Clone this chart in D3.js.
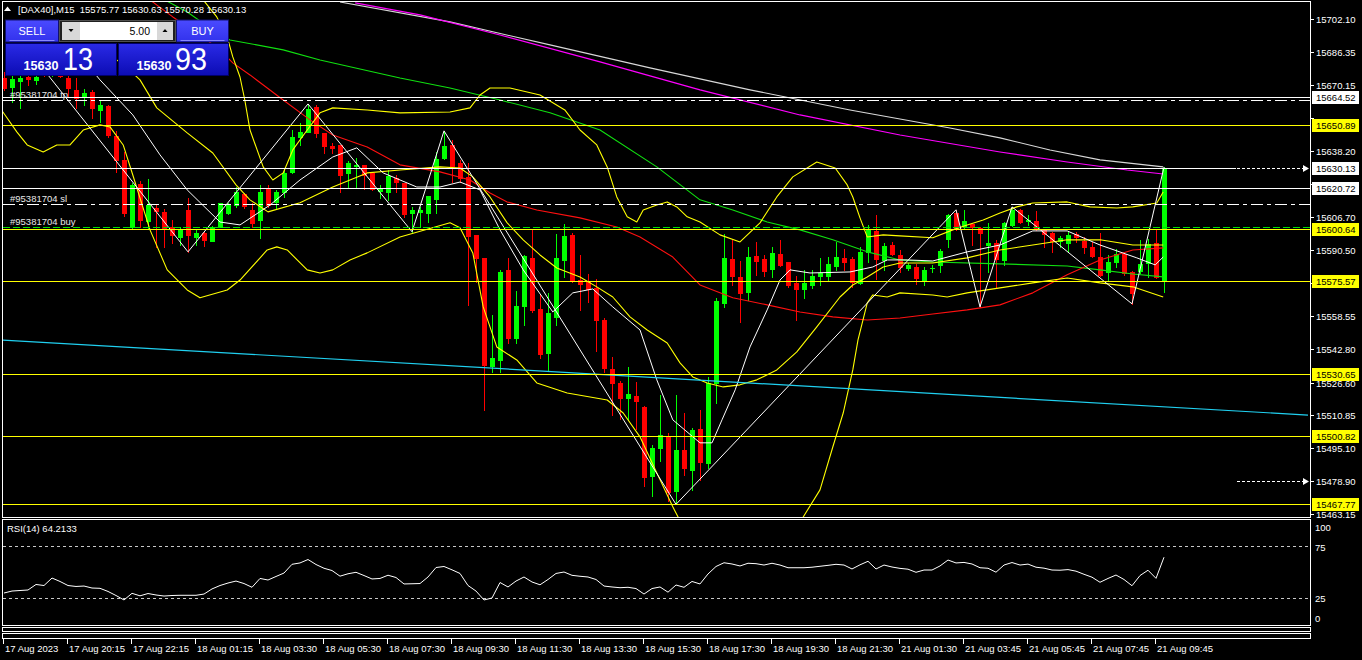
<!DOCTYPE html>
<html><head><meta charset="utf-8">
<script src="https://d3js.org/d3.v7.min.js"></script>
<style>
html,body{margin:0;padding:0;background:#000;overflow:hidden;}
svg{display:block;}
text{font-family:"Liberation Sans",Arial,sans-serif;}
</style></head>
<body><svg width="1362" height="660"></svg>
<script>
// ================= DATA =================
const headerSymbol = "[DAX40],M15";
const headerOHLC = ["15575.77", "15630.63", "15570.28", "15630.13"];
const lotSize = "5.00";
const sellQuote = ["15630", "13"];
const buyQuote = ["15630", "93"];

const opens = [
15673.6,15669.3,15672.2,15674.1,15672.7,15676.1,15675.1,15675.6,15673.6,15667.9,
15664.5,15666.9,15658.2,15660.1,15645.7,15634.1,15601.8,15622.5,15604.7,15610.9,
15609.0,15601.8,15596.9,15610.0,15596.9,15598.9,15595.0,15601.8,15608.5,15612.4,
15617.7,15610.0,15605.2,15620.1,15613.8,15618.6,15628.3,15645.2,15647.6,15659.6,
15647.1,15640.8,15641.3,15627.8,15631.1,15631.6,15627.8,15619.1,15618.6,15625.4,
15622.9,15608.5,15609.0,15608.5,15615.3,15635.0,15641.3,15632.6,15625.9,15597.9,
15586.8,15534.6,15537.5,15581.0,15548.2,15563.6,15586.8,15562.2,15540.9,15558.3,
15585.8,15597.9,15576.1,15575.2,15572.3,15556.8,15533.2,15526.4,15519.2,15520.1,
15514.8,15481.5,15495.0,15500.3,15474.3,15494.1,15484.4,15504.2,15487.8,15526.4,
15565.1,15586.3,15577.6,15570.3,15587.8,15586.3,15581.5,15588.7,15584.8,15574.7,
15571.8,15573.7,15578.1,15578.1,15582.9,15586.8,15586.3,15574.7,15589.7,15599.8,
15585.8,15593.1,15588.3,15581.9,15582.4,15576.1,15581.8,15583.4,15596.0,15608.5,
15602.2,15603.2,15601.3,15593.1,15594.0,15585.8,15602.7,15610.0,15604.7,15604.7,
15600.3,15598.9,15595.0,15594.0,15598.4,15595.0,15592.1,15587.3,15580.1,15584.8,
15588.7,15580.1,15580.5,15584.3,15594.0,15575.77];
const highs = [
15676.5,15675.6,15675.6,15675.6,15675.6,15677.5,15676.1,15676.1,15675.6,15673.6,
15668.3,15667.9,15663.0,15660.6,15648.1,15637.9,15622.9,15623.9,15624.9,15612.4,
15610.5,15605.2,15601.8,15615.8,15600.3,15599.8,15602.2,15613.4,15613.4,15621.0,
15618.1,15613.4,15622.0,15622.0,15619.6,15629.7,15648.5,15651.9,15661.1,15660.6,
15647.1,15642.2,15641.3,15633.6,15635.0,15631.6,15627.8,15622.0,15629.2,15626.8,
15622.9,15611.4,15611.4,15616.7,15637.9,15648.1,15643.7,15634.1,15632.6,15597.9,
15586.8,15559.3,15581.0,15586.8,15570.8,15588.3,15600.3,15568.9,15569.9,15598.4,
15603.2,15598.9,15588.3,15579.0,15576.6,15557.8,15539.0,15527.4,15534.1,15526.9,
15515.3,15496.5,15520.6,15502.3,15520.6,15511.9,15504.7,15513.4,15529.3,15567.5,
15598.4,15595.5,15585.3,15592.1,15594.5,15588.3,15592.1,15595.5,15584.8,15578.1,
15581.0,15581.0,15586.8,15587.3,15594.5,15591.1,15587.3,15592.1,15602.7,15607.5,
15594.0,15594.5,15590.7,15584.3,15583.9,15582.4,15583.4,15591.1,15608.0,15610.0,
15610.0,15603.2,15601.8,15603.7,15595.5,15604.2,15611.4,15610.5,15607.5,15609.5,
15600.3,15599.4,15597.4,15599.4,15599.4,15596.9,15594.5,15598.9,15588.3,15591.1,
15589.2,15580.5,15595.5,15596.0,15600.3,15630.63];
const lows = [
15667.9,15662.1,15659.2,15670.3,15670.8,15674.6,15674.6,15674.1,15664.5,15659.2,
15660.6,15654.3,15652.4,15645.2,15628.3,15607.0,15601.3,15601.8,15601.3,15592.1,
15592.1,15594.0,15593.1,15589.7,15593.1,15592.6,15595.0,15601.8,15608.0,15611.4,
15610.9,15601.8,15596.5,15611.4,15610.9,15616.2,15627.8,15641.3,15647.6,15645.2,
15637.4,15637.4,15618.6,15620.5,15621.0,15620.1,15619.6,15615.8,15614.8,15618.6,
15606.6,15599.4,15601.8,15604.2,15608.5,15634.5,15623.4,15623.4,15564.1,15575.2,
15513.4,15531.7,15531.7,15545.7,15545.7,15554.4,15560.7,15538.5,15532.7,15554.4,
15577.6,15575.2,15561.7,15565.5,15541.9,15531.7,15511.0,15509.0,15508.5,15504.2,
15476.7,15471.9,15488.8,15469.5,15467.8,15482.0,15474.8,15479.6,15485.4,15516.8,
15563.1,15573.7,15555.9,15566.5,15578.6,15578.1,15577.6,15582.9,15572.8,15556.8,
15567.5,15572.3,15573.7,15576.1,15581.0,15581.0,15572.8,15574.2,15584.8,15576.6,
15581.0,15588.3,15580.1,15581.0,15574.2,15573.7,15580.1,15580.1,15592.1,15600.3,
15601.3,15593.1,15563.1,15580.1,15572.3,15583.4,15602.2,15603.7,15602.7,15600.3,
15592.1,15589.7,15592.1,15589.7,15594.5,15589.2,15587.3,15578.1,15575.7,15582.4,
15578.6,15564.6,15579.5,15577.6,15577.1,15570.28];
const closes = [
15668.8,15673.2,15673.6,15673.2,15674.1,15675.1,15675.6,15674.6,15668.8,15664.0,
15666.4,15659.2,15660.6,15646.1,15634.1,15608.5,15622.0,15605.2,15612.4,15609.5,
15601.3,15597.9,15600.8,15597.9,15598.9,15595.5,15601.8,15613.4,15612.4,15618.6,
15611.9,15603.7,15618.6,15612.4,15618.6,15627.8,15645.2,15647.6,15658.7,15647.1,
15640.8,15639.8,15626.8,15632.6,15631.6,15626.8,15620.1,15620.1,15626.3,15623.4,
15608.0,15610.0,15610.0,15616.7,15634.5,15640.8,15631.1,15625.4,15597.4,15586.8,
15535.1,15538.5,15580.1,15548.2,15563.6,15587.8,15561.7,15540.4,15560.2,15586.8,
15597.4,15575.7,15574.2,15571.8,15556.8,15533.7,15526.4,15519.2,15521.1,15517.7,
15481.0,15495.0,15501.3,15473.8,15494.1,15485.4,15503.7,15488.3,15526.4,15566.0,
15586.8,15578.1,15569.9,15587.3,15585.3,15580.5,15589.2,15583.4,15573.7,15571.8,
15574.7,15578.1,15579.5,15583.9,15587.3,15584.8,15575.2,15589.7,15600.8,15586.3,
15592.6,15588.7,15582.4,15583.4,15577.1,15581.0,15582.0,15590.2,15607.5,15601.3,
15604.7,15601.8,15598.9,15594.0,15586.3,15603.7,15610.0,15604.2,15605.2,15601.3,
15598.4,15595.0,15596.5,15597.9,15596.9,15592.1,15587.8,15578.6,15584.8,15588.7,
15579.5,15569.9,15583.9,15593.5,15577.6,15630.13];

const rsi = [
29.8,31.7,32.2,32.7,38.0,37.0,44.2,40.9,37.0,36.1,
36.5,34.6,34.3,31.3,27.4,23.1,29.5,27.1,29.3,27.9,
26.9,27.4,27.6,27.6,27.6,28.8,33.7,37.0,39.4,41.3,
38.9,35.3,43.8,42.3,45.7,49.0,57.4,58.7,62.0,57.2,
53.6,51.4,46.0,48.3,49.7,46.6,43.3,43.8,46.9,44.7,
38.5,38.7,38.9,45.2,54.3,55.3,52.1,48.6,37.0,31.7,
23.1,25.0,39.9,35.6,41.3,45.2,40.4,37.7,42.8,48.6,
50.0,46.8,45.9,45.2,42.8,36.5,35.6,34.9,35.3,34.1,
28.8,34.1,35.6,30.6,37.5,35.3,40.9,38.5,48.1,55.3,
58.9,57.7,55.8,58.4,58.0,56.7,58.4,56.7,54.1,54.1,
54.1,54.6,55.5,56.4,57.4,56.7,52.9,56.9,60.3,52.9,
56.7,54.8,53.5,52.7,49.7,51.9,51.9,55.8,61.5,58.7,
59.2,57.7,54.1,53.6,49.8,56.7,59.1,56.7,57.6,54.6,
53.7,51.9,51.7,52.3,50.8,47.8,45.0,40.1,43.8,47.1,
42.8,36.8,46.6,51.7,43.9,64.2133];
const rsiLabel = "RSI(14) 64.2133";
const rsiLevels = [75, 25];
const rsiAxisVals = [100, 75, 25, 0];

// indicator lines: bar position and value
const redMaIdx = [18.25,21.1,24.5,27,28.6,30.75,34.9,38.25,41.1,45.4,49.5,54.5,58.25,60.75,62.9,66.6,72,76.6,79.5,83.6,87,91.1,95.4,99.5,103.6,107.9,112,116.1,120.4,124.5,128.6,132.9,137,141.1,144.9];
const redMaVal = [15711.3,15703.1,15694.4,15687.2,15680.9,15675.1,15663.0,15653.4,15646.1,15640.3,15631.7,15628.3,15624.4,15618.1,15613.8,15609.9,15606.1,15601.7,15596.9,15587.2,15573.7,15567.5,15564.1,15560.7,15558.3,15556.8,15557.8,15559.7,15561.7,15564.1,15569.9,15578.6,15585.8,15590.6,15591.6];
const greenMaIdx = [20.1,22.9,25.75,28.25,34.9,39.5,49.5,55.75,62,68.25,74.5,81.6,87,91.1,95.4,99.5,103.6,107.9,112,116.1,124.5,132.9,137,141.1,144.9];
const greenMaVal = [15711.3,15705.5,15697.8,15692.0,15687.2,15682.3,15673.6,15668.8,15663.0,15656.8,15648.5,15630.7,15614.8,15609.9,15604.1,15600.3,15595.5,15589.7,15585.8,15584.8,15583.9,15582.9,15581.0,15579.0,15577.6];
const magentaMaIdx = [43.9,52,62,74.5,87,99.5,112,124.5,132.9,140.4,144.9];
const magentaMaVal = [15709.9,15704.1,15694.4,15681.4,15667.9,15655.8,15646.1,15637.9,15633.1,15629.2,15627.3];
const grayMaIdx = [42,55.75,68.25,80.75,93.25,105.75,118.25,124.5,130.75,137,144.9];
const grayMaVal = [15710.3,15700.7,15689.6,15678.5,15667.9,15658.2,15649.5,15644.7,15638.9,15634.1,15630.7];
const whiteMaIdx = [10.75,12,16.1,19.5,22.9,27,29.5,33.25,37,41.1,44.1,47.4,51.6,54.5,57,59.5,62,64.9,68.6,71.1,73.6,76.1,79.5,81.6,83.6,87,88.5,89.75,91.4,93.25,95.4,97,98.25,100.75,105.75,108.6,110.4,112.9,116.1,120.4,124.5,128.6,132.9,137,141.6,143.9,144.9];
const whiteMaVal = [15678.5,15672.7,15655.8,15636.5,15619.6,15604.1,15602.7,15612.3,15624.4,15635.5,15639.9,15627.8,15621.0,15621.0,15623.4,15619.6,15600.3,15581.0,15560.7,15569.9,15571.8,15563.1,15552.0,15527.9,15508.6,15497.5,15497.5,15508.6,15523.1,15543.8,15561.7,15576.1,15581.0,15579.5,15580.0,15582.4,15585.8,15585.8,15585.3,15589.7,15593.0,15599.8,15599.8,15593.0,15586.8,15583.4,15587.2];
const zigzagIdx = [5,23,38,51,55,84,119,122,126,141,145];
const zigzagVal = [15677.5,15589.7,15661.1,15599.4,15648.1,15467.8,15610.0,15563.1,15611.4,15564.6,15630.63];
const bbMidIdx = [13.25,15.4,17,19.1,22.9,26.1,29,30.75,33,37,41.1,45.4,49.5,54.5,57,58.6,60.75,62.9,64.9,67,69.1,72,74.1,76.1,78.25,80.4,82.9,84.5,86.1,87.9,89.9,92,94.1,96.6,99.1,101.6,104.5,106.1,107.9,109.9,112,116.1,120.4,124.5,128.6,132.9,137,141.1,144.9];
const bbMidVal = [15684.8,15678.5,15672.7,15659.2,15647.1,15637.4,15622.0,15614.8,15609.0,15613.4,15621.0,15627.8,15629.2,15630.7,15630.2,15625.9,15616.2,15603.7,15595.5,15588.2,15581.9,15577.6,15572.8,15567.9,15558.3,15552.0,15545.7,15536.1,15529.3,15526.4,15524.5,15525.5,15527.9,15532.7,15541.4,15553.5,15567.9,15573.7,15577.6,15582.4,15584.3,15584.3,15586.8,15590.6,15593.0,15595.5,15595.5,15593.0,15593.0];
const bbUpIdx = [18.25,23.9,24.9,26.6,27.9,28.6,29.5,30.1,30.75,32.4,33.6,34.9,36.1,37.9,39.5,41.1,45.4,49.5,55.75,58.25,59.5,60.75,63.25,67,70.1,72,74.1,75.4,76.6,77.9,79.1,79.9,81.6,82.9,84.1,85.4,87,89.5,92,94.5,96.6,98.6,101.6,103.9,105.4,106.1,107,107.9,109.9,112,116.1,118.6,120.4,122.4,124.5,126.6,128.6,132.9,135.75,139.1,141.1,144.1,144.9];
const bbUpVal = [15749.9,15718.5,15711.3,15703.1,15693.4,15683.8,15674.1,15663.0,15648.5,15630.7,15624.4,15627.8,15638.9,15648.5,15656.8,15659.2,15658.2,15656.8,15657.2,15659.2,15665.4,15668.8,15668.8,15665.4,15658.2,15648.5,15641.3,15630.7,15616.2,15606.6,15604.1,15609.9,15612.3,15613.8,15611.4,15606.6,15604.1,15597.9,15594.5,15603.7,15616.2,15625.9,15633.1,15630.2,15622.0,15616.2,15606.1,15596.9,15597.9,15597.4,15596.5,15600.3,15602.7,15605.1,15608.5,15611.4,15613.3,15613.8,15611.4,15610.9,15611.4,15613.3,15618.6];
const bbLowIdx = [-0.5,1.6,2.9,4.9,6.6,8.25,9.9,12,13.25,14.9,16.1,18.25,20.4,22.9,24.5,27.9,29.5,32.9,34.1,35.4,37.9,39.5,41.1,43.25,45.4,49.5,55.75,57,58.6,59.9,61.6,64.1,66.6,70.4,75.4,77.4,79.5,81.6,83.6,85.75,89.5,94.5,98.25,99.9,102,103.6,104.9,106.1,106.75,107.9,108.6,110.4,112,116.1,117.9,120.4,124.5,128.6,132.9,137,141.1,144.9];
const bbLowVal = [15659.2,15647.6,15641.3,15637.9,15641.3,15641.3,15648.5,15651.0,15650.0,15641.3,15626.8,15600.3,15581.0,15571.3,15567.5,15571.3,15576.1,15590.6,15592.1,15590.6,15581.0,15579.5,15581.0,15585.8,15589.2,15596.9,15603.7,15601.3,15589.2,15563.1,15543.8,15537.5,15526.4,15521.6,15518.2,15511.9,15500.4,15483.0,15466.6,15450.6,15431.3,15428.9,15445.8,15461.7,15474.8,15495.5,15511.9,15532.7,15547.2,15565.0,15568.9,15567.9,15569.9,15568.9,15567.9,15569.9,15572.3,15574.7,15577.1,15574.7,15572.8,15567.9];
const trendIdx = [-0.5, 163];
const trendVal = [15547.2, 15510.9];

// horizontal objects
const whiteLevels = [15664.52, 15630.13, 15620.72];
const yellowLevels = [15650.89, 15600.64, 15575.57, 15530.65, 15500.82, 15467.77];
const bidPrice = 15630.13;
const tradeNames = ["#95381704 tp", "#95381704 sl", "#95381704 buy"];
const tradePrices = [15663.0, 15612.8, 15601.7];
const arrowPrices = [15630.13, 15478.90];

// axes
const priceTicks = [15702.10,15686.35,15670.15,15654.40,15638.20,15622.45,15606.70,15590.50,15574.75,15558.55,15542.80,15526.60,15510.85,15495.10,15478.90,15463.15];
const timeLabels = ["17 Aug 2023","17 Aug 20:15","17 Aug 22:15","18 Aug 01:15","18 Aug 03:30","18 Aug 05:30","18 Aug 07:30","18 Aug 09:30","18 Aug 11:30","18 Aug 13:30","18 Aug 15:30","18 Aug 17:30","18 Aug 19:30","18 Aug 21:30","21 Aug 01:30","21 Aug 03:45","21 Aug 05:45","21 Aug 07:45","21 Aug 09:45"];
const timeLabelBars = [0,8,16,24,32,40,48,56,64,72,80,88,96,104,112,120,128,136,144];

// ================= DRAW =================
const svg = d3.select("svg");
const L = 3, R = 1310, T = 2, B = 517, RT = 520, RB = 625;
const x = d3.scaleLinear().domain([0, 145]).range([4, 1164]);
const y = d3.scaleLinear().domain([15463.15, 15702.10]).range([514, 19]);
const yr = d3.scaleLinear().domain([0, 100]).range([624, 520]);

svg.append("rect").attr("width", 1362).attr("height", 660).attr("fill", "#000");
const defs = svg.append("defs");
defs.append("clipPath").attr("id", "cm").append("rect").attr("x", L).attr("y", T).attr("width", R - L).attr("height", B - T);
defs.append("clipPath").attr("id", "cr").append("rect").attr("x", L).attr("y", RT).attr("width", R - L).attr("height", RB - RT);

const main = svg.append("g").attr("clip-path", "url(#cm)");

// candles
const bars = d3.range(opens.length).map(i => ({i, o: opens[i], h: highs[i], l: lows[i], c: closes[i]}));
const cg = main.append("g").attr("shape-rendering", "crispEdges");
cg.selectAll("line.w").data(bars).join("line")
  .attr("x1", d => Math.round(x(d.i)) + 0.5).attr("x2", d => Math.round(x(d.i)) + 0.5)
  .attr("y1", d => Math.round(y(d.h))).attr("y2", d => Math.round(y(d.l)) + 1)
  .attr("stroke", d => d.c >= d.o ? "#00ff00" : "#ff0000");
cg.selectAll("rect.b").data(bars).join("rect")
  .attr("x", d => Math.round(x(d.i)) - 2).attr("width", 5)
  .attr("y", d => Math.round(y(Math.max(d.o, d.c))))
  .attr("height", d => Math.max(1, Math.round(y(Math.min(d.o, d.c))) - Math.round(y(Math.max(d.o, d.c))) + 1))
  .attr("fill", d => d.c >= d.o ? "#00ff00" : "#ff0000");

// indicator lines
const lineGen = d3.line();
function series(idx, vals, color, w) {
  main.append("path").attr("d", lineGen(idx.map((v, k) => [x(v), y(vals[k])])))
    .attr("fill", "none").attr("stroke", color).attr("stroke-width", w || 1.1).attr("stroke-linejoin", "round");
}
series(grayMaIdx, grayMaVal, "#d8d8d8");
series(magentaMaIdx, magentaMaVal, "#ff00ff");
series(greenMaIdx, greenMaVal, "#10e010");
series(redMaIdx, redMaVal, "#ff1010");
series(bbUpIdx, bbUpVal, "#ffff00");
series(bbMidIdx, bbMidVal, "#ffff00");
series(bbLowIdx, bbLowVal, "#ffff00");
series(whiteMaIdx, whiteMaVal, "#ffffff", 1);
series(zigzagIdx, zigzagVal, "#ffffff", 1);

// objects
const og = main.append("g").attr("shape-rendering", "crispEdges");
const hy = p => Math.round(y(p)) + 0.5;
og.append("line").attr("x1", x(trendIdx[0])).attr("y1", y(trendVal[0])).attr("x2", x(trendIdx[1])).attr("y2", y(trendVal[1]))
  .attr("stroke", "#20d0f0").attr("stroke-width", 1.2).attr("shape-rendering", "auto");
yellowLevels.forEach(p => og.append("line").attr("x1", L).attr("x2", R).attr("y1", hy(p)).attr("y2", hy(p)).attr("stroke", "#ffff00"));
whiteLevels.filter(p => p !== bidPrice).forEach(p => og.append("line").attr("x1", L).attr("x2", R).attr("y1", hy(p)).attr("y2", hy(p)).attr("stroke", "#ffffff"));
og.append("line").attr("x1", L).attr("x2", 1236).attr("y1", hy(bidPrice)).attr("y2", hy(bidPrice)).attr("stroke", "#ffffff");
tradePrices.forEach((p, k) => {
  const isBuy = k === 2;
  og.append("line").attr("x1", L).attr("x2", R).attr("y1", hy(p)).attr("y2", hy(p))
    .attr("stroke", isBuy ? "#00e000" : "#ffffff").attr("stroke-dasharray", isBuy ? "7,3" : "12,4,4,4");
  main.append("text").attr("x", 10).attr("y", hy(p) - 3).attr("fill", "#e8e8e8").attr("font-size", 9.5).text(tradeNames[k]);
});
arrowPrices.forEach(p => {
  og.append("line").attr("x1", 1237).attr("x2", 1304).attr("y1", hy(p)).attr("y2", hy(p)).attr("stroke", "#ffffff").attr("stroke-dasharray", "3,2");
  main.append("path").attr("d", `M1303,${hy(p) - 3.5}L1309,${hy(p)}L1303,${hy(p) + 3.5}Z`).attr("fill", "#ffffff");
});

// RSI panel
const rg = svg.append("g").attr("clip-path", "url(#cr)");
rsiLevels.forEach(v => rg.append("line").attr("x1", L).attr("x2", R).attr("y1", Math.round(yr(v)) + 0.5).attr("y2", Math.round(yr(v)) + 0.5)
  .attr("stroke", "#c8c8c8").attr("stroke-dasharray", "3,3").attr("shape-rendering", "crispEdges"));
rg.append("path").attr("d", lineGen(rsi.map((v, i) => [x(i), yr(v)]))).attr("fill", "none").attr("stroke", "#ffffff").attr("stroke-width", 1);
svg.append("text").attr("x", 7).attr("y", 532).attr("fill", "#ffffff").attr("font-size", 9.5).text(rsiLabel);

// frames
const fg = svg.append("g").attr("fill", "none").attr("stroke", "#ffffff").attr("shape-rendering", "crispEdges");
fg.append("rect").attr("x", 2.5).attr("y", 1.5).attr("width", R - 2).attr("height", B - 1);
fg.append("rect").attr("x", 2.5).attr("y", 519.5).attr("width", R - 2).attr("height", 106);
fg.append("rect").attr("x", 2.5).attr("y", 627.5).attr("width", R - 2).attr("height", 4);
fg.append("rect").attr("x", 2.5).attr("y", 633.5).attr("width", R - 2).attr("height", 5);

// price axis
const ax = svg.append("g");
const boxLevels = whiteLevels.concat(yellowLevels);
priceTicks.forEach(p => {
  const yy = Math.round(y(p)) + 0.5;
  ax.append("line").attr("x1", R).attr("x2", R + 4).attr("y1", yy).attr("y2", yy).attr("stroke", "#fff").attr("shape-rendering", "crispEdges");
  const hidden = boxLevels.some(b => Math.abs(y(b) - y(p)) < 8);
  if (!hidden) ax.append("text").attr("x", 1316).attr("y", yy + 3.5).attr("fill", "#fff").attr("font-size", 9.5).text(p.toFixed(2));
});
function priceBox(p, bg) {
  const yy = Math.round(y(p));
  ax.append("rect").attr("x", 1312).attr("y", yy - 6).attr("width", 47).attr("height", 13).attr("fill", bg);
  ax.append("text").attr("x", 1316).attr("y", yy + 4).attr("fill", "#000").attr("font-size", 9.5).text(p.toFixed(2));
}
yellowLevels.forEach(p => priceBox(p, "#ffff00"));
whiteLevels.forEach(p => priceBox(p, "#ffffff"));

// RSI axis
const rOff = {100: 7, 75: 1, 25: 0, 0: -6};
rsiAxisVals.forEach(v => {
  ax.append("text").attr("x", 1315).attr("y", yr(v) + rOff[v] + 3.5).attr("fill", "#fff").attr("font-size", 9.5).text(String(v));
});

// time axis
timeLabels.forEach((t, k) => {
  const tx = Math.round(x(timeLabelBars[k])) - 0.5;
  ax.append("line").attr("x1", tx).attr("x2", tx).attr("y1", 639).attr("y2", 644).attr("stroke", "#fff").attr("shape-rendering", "crispEdges");
  ax.append("text").attr("x", tx + 1.5).attr("y", 652).attr("fill", "#fff").attr("font-size", 9.5).text(t);
});

// header
const hg = svg.append("g");
hg.append("path").attr("d", "M4,11L7.5,6.5L11,11Z").attr("fill", "#fff");
hg.append("text").attr("x", 18).attr("y", 13).attr("fill", "#fff").attr("font-size", 9.5)
  .attr("xml:space", "preserve").text(headerSymbol + "  " + headerOHLC.join(" "));

// one-click trading panel
const grad = (id, c1, c2) => {
  const g = defs.append("linearGradient").attr("id", id).attr("x1", 0).attr("y1", 0).attr("x2", 0).attr("y2", 1);
  g.append("stop").attr("offset", "0%").attr("stop-color", c1);
  g.append("stop").attr("offset", "100%").attr("stop-color", c2);
};
grad("gbtn", "#4a4aff", "#3232ec");
grad("gbox", "#2a2ae6", "#0c0cb4");
const pg = svg.append("g");
function button(x0, w, label) {
  pg.append("rect").attr("x", x0).attr("y", 20).attr("width", w).attr("height", 22).attr("fill", "url(#gbtn)").attr("stroke", "#101070");
  pg.append("line").attr("x1", x0 + 4).attr("x2", x0 + w - 4).attr("y1", 40.5).attr("y2", 40.5).attr("stroke", "#8a8aff");
  pg.append("text").attr("x", x0 + w / 2).attr("y", 35).attr("text-anchor", "middle").attr("fill", "#fff").attr("font-size", 11).text(label);
}
button(5.5, 53, "SELL");
button(176.5, 52, "BUY");
pg.append("rect").attr("x", 59.5).attr("y", 20.5).attr("width", 116).attr("height", 21).attr("fill", "#202020").attr("stroke", "#505050");
pg.append("rect").attr("x", 62).attr("y", 22).attr("width", 18).attr("height", 18).attr("fill", "#d8d8d8");
pg.append("rect").attr("x", 157).attr("y", 22).attr("width", 16).attr("height", 18).attr("fill", "#d8d8d8");
pg.append("rect").attr("x", 80).attr("y", 22).attr("width", 77).attr("height", 18).attr("fill", "#ffffff");
pg.append("path").attr("d", "M68.5,29L73.5,29L71,32Z").attr("fill", "#000");
pg.append("path").attr("d", "M162.5,32L167.5,32L165,29Z").attr("fill", "#000");
pg.append("text").attr("x", 150).attr("y", 35).attr("text-anchor", "end").attr("fill", "#000").attr("font-size", 10.5).text(lotSize);
function quoteBox(x0, w, q, bigX, bigW) {
  pg.append("rect").attr("x", x0).attr("y", 43.5).attr("width", w).attr("height", 32).attr("fill", "url(#gbox)").attr("stroke", "#00006a");
  pg.append("text").attr("x", x0 + 18).attr("y", 70).attr("fill", "#fff").attr("font-size", 12).attr("font-weight", "bold")
    .attr("textLength", 35).attr("lengthAdjust", "spacingAndGlyphs").text(q[0]);
  pg.append("text").attr("x", bigX).attr("y", 70).attr("fill", "#fff").attr("font-size", 31)
    .attr("textLength", bigW).attr("lengthAdjust", "spacingAndGlyphs").text(q[1]);
}
quoteBox(5.5, 111, sellQuote, 63, 30);
quoteBox(118.5, 110, buyQuote, 175, 32);
</script>
</body></html>
